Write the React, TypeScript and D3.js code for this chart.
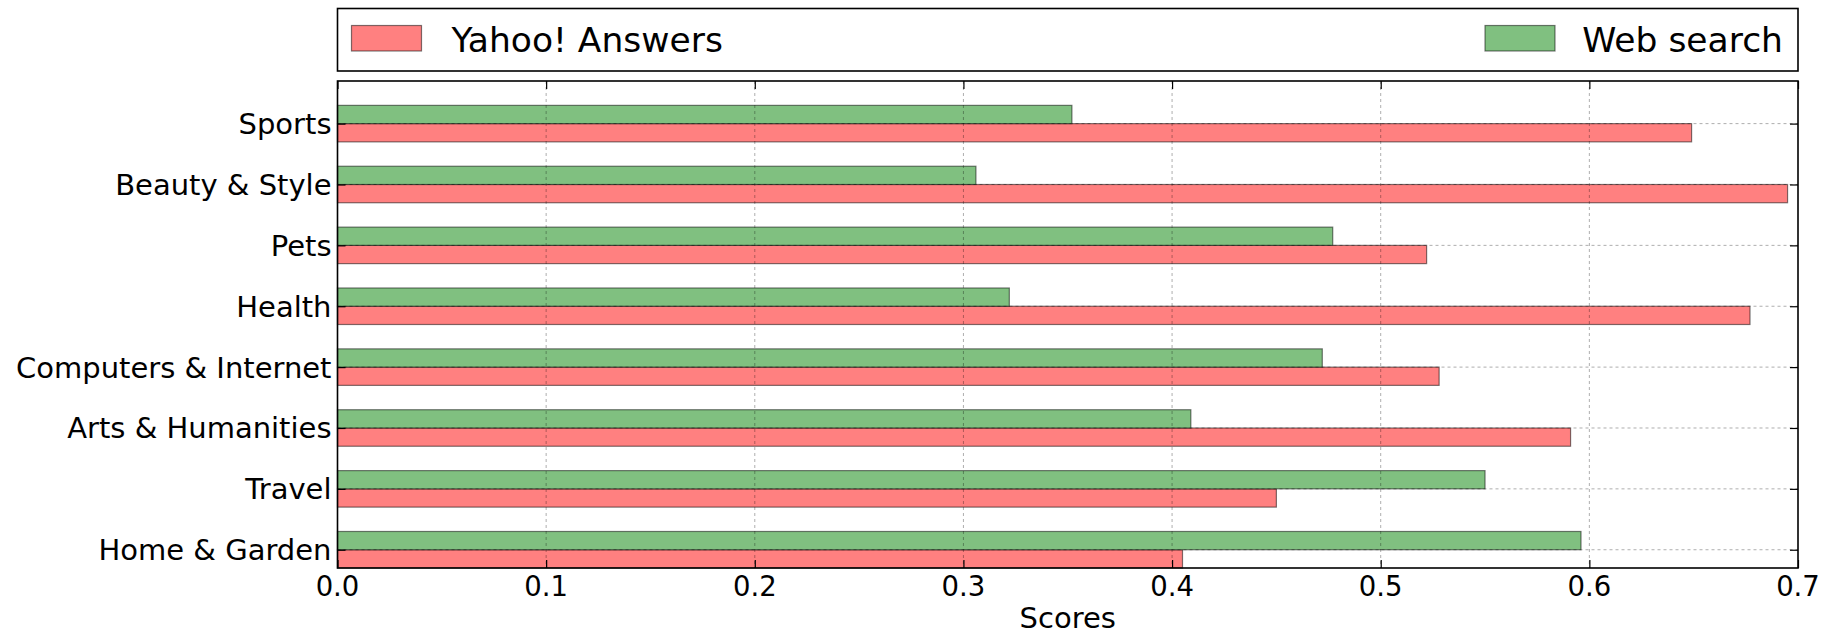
import React, { useEffect, createRef } from 'react';
import * as d3 from 'd3';

// categories listed from the top of the chart to the bottom
const categories = [
  'Sports',
  'Beauty & Style',
  'Pets',
  'Health',
  'Computers & Internet',
  'Arts & Humanities',
  'Travel',
  'Home & Garden',
];
const yahooAnswers = [0.649, 0.695, 0.522, 0.677, 0.528, 0.591, 0.450, 0.405];
const webSearch = [0.352, 0.306, 0.477, 0.322, 0.472, 0.409, 0.550, 0.596];
const xTicks = [0.0, 0.1, 0.2, 0.3, 0.4, 0.5, 0.6, 0.7];
const seriesNames = ['Yahoo! Answers', 'Web search'];

const RED = '#ff8080';
const GREEN = '#80c080';
const FONT = '"DejaVu Sans", sans-serif';

export default function App() {
  const svgRef = createRef<SVGSVGElement>();

  useEffect(() => {
    renderChart(svgRef);
  }, []);

  const renderChart = (svgRef: any) => {
    const width = 1837;
    const height = 635;
    const left = 337.5, right = 1798, top = 81, bottom = 568;
    const barH = 0.3;

    const svg = d3.select(svgRef.current)
      .attr('width', width)
      .attr('height', height);
    svg.selectAll('*').remove();

    const xScale = d3.scaleLinear().domain([0, 0.7]).range([left, right]);
    const yScale = d3.scaleLinear().domain([0, 8]).range([bottom, top]);
    // index 0 sits at the bottom
    const pos = (i: number) => categories.length - 1 - i;

    svg.append('rect').attr('width', width).attr('height', height).attr('fill', '#fff');

    // red bars: [i, i+0.3], green bars: [i+0.3, i+0.6]
    svg.append('g').selectAll('rect')
      .data(yahooAnswers)
      .enter()
      .append('rect')
      .attr('x', xScale(0))
      .attr('y', (d, i) => yScale(pos(i) + barH))
      .attr('width', (d) => xScale(d) - xScale(0))
      .attr('height', yScale(0) - yScale(barH))
      .attr('fill', RED)
      .attr('stroke', 'rgba(0,0,0,0.5)')
      .attr('stroke-width', 1.2);

    svg.append('g').selectAll('rect')
      .data(webSearch)
      .enter()
      .append('rect')
      .attr('x', xScale(0))
      .attr('y', (d, i) => yScale(pos(i) + 2 * barH))
      .attr('width', (d) => xScale(d) - xScale(0))
      .attr('height', yScale(0) - yScale(barH))
      .attr('fill', GREEN)
      .attr('stroke', 'rgba(0,0,0,0.5)')
      .attr('stroke-width', 1.2);

    // grid (drawn over the bars)
    const grid = svg.append('g')
      .attr('stroke', 'rgba(0,0,0,0.32)')
      .attr('stroke-width', 1)
      .attr('stroke-dasharray', '3,3');
    xTicks.slice(1, -1).forEach((t) => {
      grid.append('line')
        .attr('x1', xScale(t)).attr('x2', xScale(t))
        .attr('y1', top).attr('y2', bottom);
    });
    categories.forEach((c, i) => {
      const y = yScale(pos(i) + barH);
      grid.append('line')
        .attr('x1', left).attr('x2', right)
        .attr('y1', y).attr('y2', y);
    });

    // ticks, inward on all four sides
    const xAxisB = d3.axisBottom(xScale).tickValues(xTicks).tickSize(-8).tickFormat(() => '');
    const xAxisT = d3.axisTop(xScale).tickValues(xTicks).tickSize(-8).tickFormat(() => '');
    const tickVals = categories.map((c, i) => pos(i) + barH);
    const yAxisL = d3.axisLeft(yScale).tickValues(tickVals).tickSize(-8).tickFormat(() => '');
    const yAxisR = d3.axisRight(yScale).tickValues(tickVals).tickSize(-8).tickFormat(() => '');
    const gb = svg.append('g').attr('transform', `translate(0,${bottom})`).call(xAxisB);
    const gt = svg.append('g').attr('transform', `translate(0,${top})`).call(xAxisT);
    const gl = svg.append('g').attr('transform', `translate(${left},0)`).call(yAxisL);
    const gr = svg.append('g').attr('transform', `translate(${right},0)`).call(yAxisR);
    [gb, gt, gl, gr].forEach((g) => {
      g.select('.domain').remove();
      g.selectAll('line').attr('stroke', '#000').attr('stroke-width', 1.2);
    });

    // frame
    svg.append('rect')
      .attr('x', left).attr('y', top)
      .attr('width', right - left).attr('height', bottom - top)
      .attr('fill', 'none').attr('stroke', '#000').attr('stroke-width', 1.6);

    // x tick labels
    svg.append('g').selectAll('text')
      .data(xTicks)
      .enter()
      .append('text')
      .attr('x', (d) => xScale(d))
      .attr('y', 596)
      .attr('text-anchor', 'middle')
      .style('font-family', FONT)
      .style('font-size', '27.5px')
      .attr('fill', '#000')
      .text((d) => d.toFixed(1));

    // category labels
    svg.append('g').selectAll('text')
      .data(categories)
      .enter()
      .append('text')
      .attr('x', left - 6)
      .attr('y', (d, i) => yScale(pos(i) + barH))
      .attr('dy', '0.36em')
      .attr('text-anchor', 'end')
      .style('font-family', FONT)
      .style('font-size', '29px')
      .attr('fill', '#000')
      .text((d) => d);

    // x axis label
    svg.append('text')
      .attr('x', (left + right) / 2)
      .attr('y', 628)
      .attr('text-anchor', 'middle')
      .style('font-family', FONT)
      .style('font-size', '29px')
      .attr('fill', '#000')
      .text('Scores');

    // legend
    const lg = svg.append('g');
    lg.append('rect')
      .attr('x', left).attr('y', 8.5)
      .attr('width', right - left).attr('height', 62.5)
      .attr('fill', '#fff').attr('stroke', '#000').attr('stroke-width', 1.6);
    lg.append('rect')
      .attr('x', 351.5).attr('y', 25.5).attr('width', 70).attr('height', 25.5)
      .attr('fill', RED).attr('stroke', 'rgba(0,0,0,0.5)').attr('stroke-width', 1.2);
    lg.append('text')
      .attr('x', 451.5).attr('y', 51.5)
      .style('font-family', FONT).style('font-size', '34.5px').attr('fill', '#000')
      .text(seriesNames[0]);
    lg.append('rect')
      .attr('x', 1485).attr('y', 25.5).attr('width', 70).attr('height', 25.5)
      .attr('fill', GREEN).attr('stroke', 'rgba(0,0,0,0.5)').attr('stroke-width', 1.2);
    lg.append('text')
      .attr('x', 1783).attr('y', 51.5)
      .attr('text-anchor', 'end')
      .style('font-family', FONT).style('font-size', '34.5px').attr('fill', '#000')
      .text(seriesNames[1]);
  };

  return (
    <div style={{ position: 'absolute', left: 0, top: 0 }}>
      <svg ref={svgRef}></svg>
    </div>
  );
}
